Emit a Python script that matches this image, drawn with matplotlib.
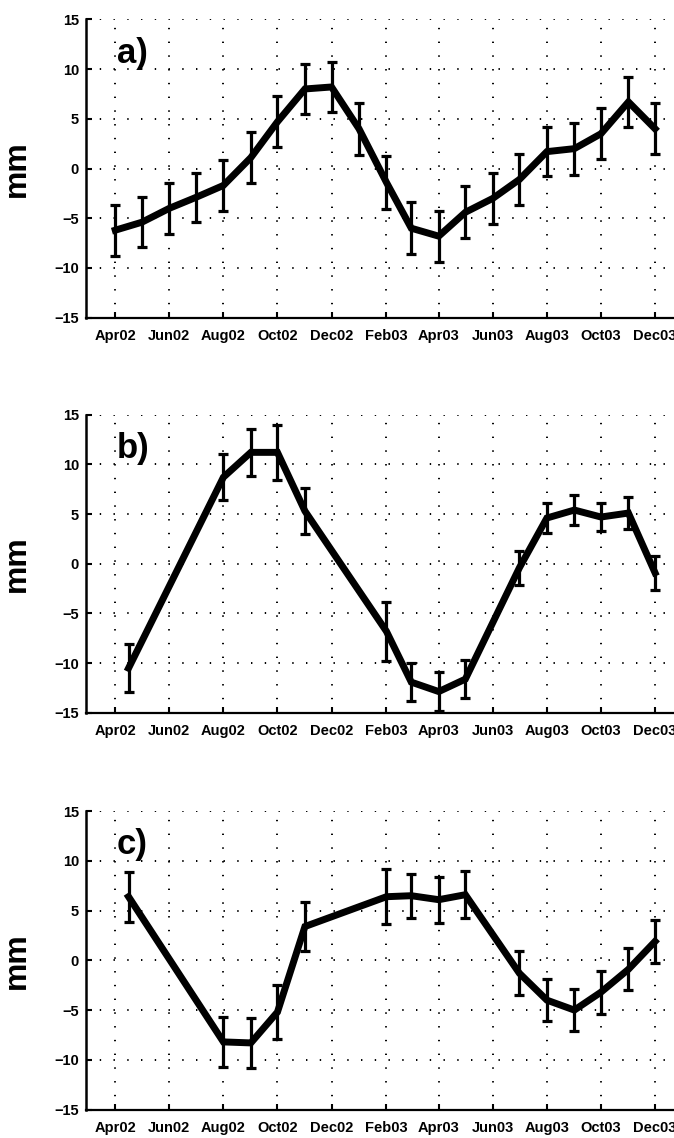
import numpy as np
import matplotlib
matplotlib.use("Agg")
import matplotlib.pyplot as plt
import matplotlib.dates as mdates

plt.rcParams['font.family'] = ['Liberation Sans', 'DejaVu Sans']
plt.rcParams['font.weight'] = 'bold'
plt.rcParams['lines.scale_dashes'] = False

# panel a: monthly, Apr02 - Dec03
dates_a = np.arange('2002-04', '2004-01', dtype='datetime64[M]').astype('datetime64[D]')
vals_a = [-6.2, -5.4, -4.0, -2.9, -1.7, 1.1, 4.7, 8.0, 8.2, 4.0, -1.4,
          -6.0, -6.8, -4.4, -3.0, -1.1, 1.7, 2.0, 3.5, 6.7, 4.0]
errs_a = [2.55, 2.5, 2.55, 2.5, 2.55, 2.55, 2.55, 2.55, 2.55, 2.6, 2.65,
          2.6, 2.55, 2.6, 2.6, 2.6, 2.5, 2.6, 2.55, 2.55, 2.55]

# panels b and c share the same epochs
dates_bc = np.array(['2002-04-16', '2002-08-01', '2002-09-01', '2002-10-01', '2002-11-01',
                     '2003-02-01', '2003-03-01', '2003-04-01', '2003-05-01', '2003-07-01',
                     '2003-08-01', '2003-09-01', '2003-10-01', '2003-11-01', '2003-12-01'],
                    dtype='datetime64[D]')
vals_b = [-10.5, 8.7, 11.2, 11.2, 5.3, -6.8, -11.9, -12.85, -11.6, -0.4,
          4.6, 5.4, 4.7, 5.1, -0.9]
errs_b = [2.4, 2.3, 2.35, 2.8, 2.35, 2.95, 1.9, 1.95, 1.9, 1.7,
          1.5, 1.55, 1.4, 1.65, 1.7]
vals_c = [6.4, -8.2, -8.3, -5.2, 3.4, 6.4, 6.5, 6.1, 6.6, -1.3,
          -4.0, -5.0, -3.2, -0.9, 1.9]
errs_c = [2.5, 2.5, 2.55, 2.7, 2.45, 2.75, 2.2, 2.3, 2.35, 2.2,
          2.1, 2.15, 2.15, 2.1, 2.15]

panel_labels = ['a)', 'b)', 'c)']
tick_dates = np.arange('2002-04', '2004-01', 2, dtype='datetime64[M]').astype('datetime64[D]')
yticks = [-15, -10, -5, 0, 5, 10, 15]

fig = plt.figure(figsize=(6.74, 11.38), dpi=100)

# axes positions in figure fraction (left, bottom, width, height)
left, width, height = 0.1276, 0.885, 0.2622
bottoms = [0.7208, 0.3735, 0.0250]

series = [(dates_a, vals_a, errs_a), (dates_bc, vals_b, errs_b), (dates_bc, vals_c, errs_c)]

for i, (d, v, e) in enumerate(series):
    ax = fig.add_axes([left, bottoms[i], width, height])
    ax.errorbar(d.astype('O'), v, yerr=e, color='black', lw=5.0,
                elinewidth=2.3, capsize=3.6, capthick=2.3,
                solid_joinstyle='miter', zorder=3)
    ax.set_xlim(np.datetime64('2002-02-27').astype('O'), np.datetime64('2004-01-01').astype('O'))
    ax.set_ylim(-15, 15)
    ax.set_yticks(yticks)
    ax.set_xticks(tick_dates.astype('O'))
    ax.xaxis.set_major_formatter(mdates.DateFormatter('%b%y'))
    ax.tick_params(direction='in', length=4, width=1.5, labelsize=10.5, pad=5)
    ax.tick_params(axis='x', pad=8)
    for lab in ax.get_xticklabels() + ax.get_yticklabels():
        lab.set_fontweight('bold')
    ax.grid(True, color='black', linestyle=(0, (1.0, 8.9)), lw=1.4)
    ax.spines['top'].set_visible(False)
    ax.spines['right'].set_visible(False)
    ax.spines['left'].set_linewidth(1.8)
    ax.spines['bottom'].set_linewidth(1.6)
    ax.set_ylabel('mm', fontsize=23, fontweight='bold')
    ax.yaxis.set_label_coords(-0.09, 0.5)
    ax.text(0.052, 0.855, panel_labels[i], transform=ax.transAxes,
            fontsize=25, fontweight='bold', va='baseline', ha='left')

fig.savefig('out.png', dpi=100)
